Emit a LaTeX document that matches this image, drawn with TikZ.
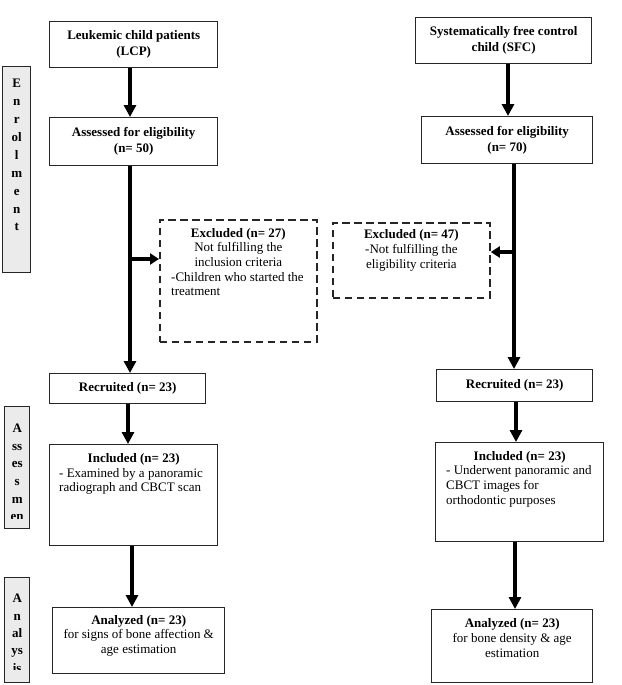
\documentclass[tikz,border=0pt]{standalone}
\usepackage{fontspec}
\setmainfont{Liberation Serif}
\usetikzlibrary{arrows.meta}
\definecolor{boxline}{HTML}{262626}
\definecolor{sidefill}{HTML}{EBEBEB}
\tikzset{
  solidbox/.style={draw=boxline, line width=1.4pt, fill=white, inner sep=0pt, anchor=north west,
    align=center, font=\bfseries\fontsize{13}{16}\selectfont},
  dashbox/.style={draw=boxline, line width=1.8pt, dash pattern=on 7.5pt off 4.5pt, inner sep=0pt, anchor=north west},
  sidebox/.style={draw=boxline, line width=1.4pt, fill=sidefill, inner sep=0pt, anchor=north west},
  txt/.style={inner sep=0pt, align=center, font=\fontsize{13}{14.7}\selectfont},
  sidetxt/.style={inner sep=0pt, align=center, anchor=north},
  arr/.style={line width=4pt, -{Triangle[width=12pt,length=12pt]}},
  sarr/.style={line width=3.8pt, -{Triangle[width=11pt,length=9pt]}}
}
\begin{document}
\begin{tikzpicture}[x=1pt,y=-1pt]
\useasboundingbox[fill=white] (0,0) rectangle (621,685);

% column coordinates
\coordinate (cLa) at (130,0);
\coordinate (cLb) at (130,0);
\coordinate (cLc) at (128,0);
\coordinate (cLd) at (132,0);
\coordinate (cRa) at (508,0);
\coordinate (cRb) at (514,0);
\coordinate (cRc) at (516,0);
\coordinate (cRd) at (515,0);

% side bars
\node[sidebox, minimum width=28pt, minimum height=206pt] (enr) at (2,66) {};
\node[sidetxt, font=\bfseries\fontsize{13}{17.9}\selectfont] (enrt) at ([yshift=-13pt]enr.north) {E\\n\\r\\ol\\l\\m\\e\\n\\t};

\node[sidebox, minimum width=25pt, minimum height=122pt] (ass) at (4,406) {};
\begin{scope}
  \clip (ass.north west) rectangle ([yshift=11pt]ass.south east);
  \node[sidetxt, font=\bfseries\fontsize{13}{17.6}\selectfont] (asst) at ([yshift=-18pt]ass.north) {A\\ss\\es\\s\\m\\en};
\end{scope}

\node[sidebox, minimum width=25pt, minimum height=105pt] (ana) at (4,577) {};
\begin{scope}
  \clip (ana.north west) rectangle ([yshift=14pt]ana.south east);
  \node[sidetxt, font=\bfseries\fontsize{13}{17.4}\selectfont] (anat) at ([yshift=-17pt]ana.north) {A\\n\\al\\ys\\is};
\end{scope}

% left column
\node[solidbox, minimum width=168pt, minimum height=46pt] (lcp) at (49,21) {Leukemic child patients\\(LCP)};
\node[solidbox, minimum width=168pt, minimum height=48pt] (as1) at (49,117) {Assessed for eligibility\\(n= 50)};
\node[dashbox, minimum width=157pt, minimum height=122pt] (ex1) at (159,219) {};
\node[txt, anchor=north] (ex1t) at ([yshift=-9pt]ex1.north) {\textbf{Excluded (n= 27)}\\Not fulfilling the\\inclusion criteria};
\node[txt, align=left, anchor=north west] (ex1b) at ([xshift=12pt,yshift=-53pt]ex1.north west) {-Children who started the\\treatment};
\node[solidbox, minimum width=156pt, minimum height=30pt] (rec1) at (49,373) {Recruited (n= 23)};
\node[solidbox, minimum width=168pt, minimum height=101pt] (inc1) at (49,444) {};
\node[txt, anchor=north] (inc1t) at ([yshift=-9pt]inc1.north) {\textbf{Included (n= 23)}};
\node[txt, align=left, anchor=north west] (inc1b) at ([xshift=10pt,yshift=-24pt]inc1.north west) {- Examined by a panoramic\\radiograph and CBCT scan};
\node[solidbox, minimum width=172pt, minimum height=66pt] (an1) at (52,607) {};
\node[txt, anchor=north] (an1t) at ([yshift=-8pt]an1.north) {\textbf{Analyzed (n= 23)}\\for signs of bone affection \&\\age estimation};

% right column
\node[solidbox, minimum width=176pt, minimum height=46pt] (sfc) at (415,17) {Systematically free control\\child (SFC)};
\node[solidbox, minimum width=171pt, minimum height=47pt] (as2) at (421,116) {Assessed for eligibility\\(n= 70)};
\node[dashbox, minimum width=157pt, minimum height=75pt] (ex2) at (332,222) {};
\node[txt, anchor=north] (ex2t) at ([yshift=-7.5pt]ex2.north) {\textbf{Excluded (n= 47)}\\-Not fulfilling the\\eligibility criteria};
\node[solidbox, minimum width=156pt, minimum height=32pt] (rec2) at (436,369) {Recruited (n= 23)};
\node[solidbox, minimum width=168pt, minimum height=99pt] (inc2) at (435,442) {};
\node[txt, anchor=north] (inc2t) at ([yshift=-9pt]inc2.north) {\textbf{Included (n= 23)}};
\node[txt, align=left, anchor=north west] (inc2b) at ([xshift=11pt,yshift=-23.6pt]inc2.north west) {- Underwent panoramic and\\CBCT images for\\orthodontic purposes};
\node[solidbox, minimum width=161pt, minimum height=73pt] (an2) at (431,609) {};
\node[txt, anchor=north] (an2t) at ([yshift=-9.5pt]an2.north) {\textbf{Analyzed (n= 23)}\\for bone density \& age\\estimation};

% branch points
\coordinate (bL) at (130,259);
\coordinate (bR) at (514,252);

% connectors left
\draw[arr] (lcp.south -| cLa) -- (as1.north -| cLa);
\draw[arr] (as1.south -| cLb) -- (rec1.north -| cLb);
\draw[sarr] (bL) -- (bL -| ex1.west);
\draw[arr] (rec1.south -| cLc) -- (inc1.north -| cLc);
\draw[arr] (inc1.south -| cLd) -- (an1.north -| cLd);

% connectors right
\draw[arr] (sfc.south -| cRa) -- (as2.north -| cRa);
\draw[arr] (as2.south -| cRb) -- (rec2.north -| cRb);
\draw[sarr] (bR) -- (bR -| ex2.east);
\draw[arr] (rec2.south -| cRc) -- (inc2.north -| cRc);
\draw[arr] (inc2.south -| cRd) -- (an2.north -| cRd);
\end{tikzpicture}
\end{document}
